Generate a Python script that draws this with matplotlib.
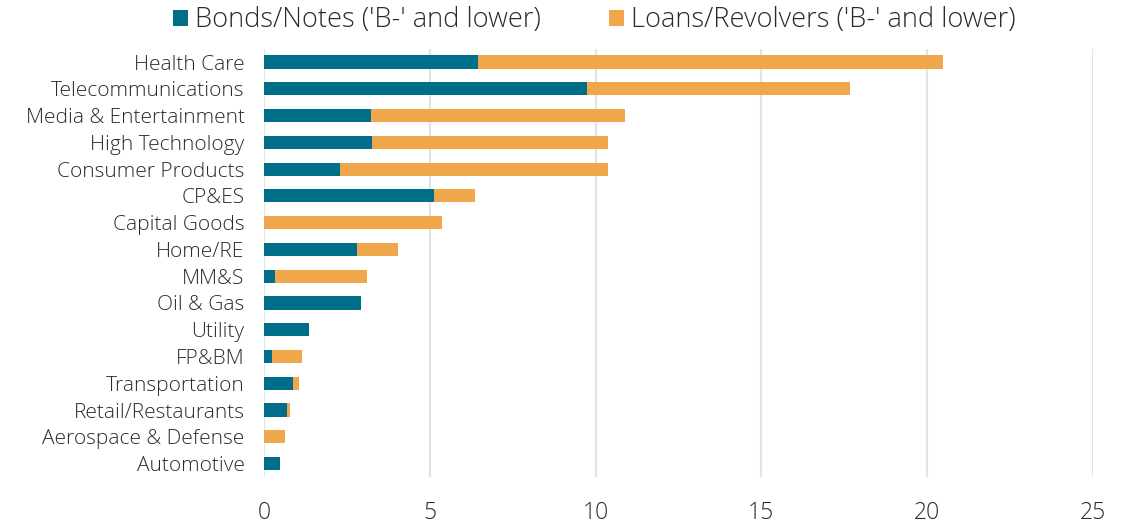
import matplotlib
matplotlib.use("Agg")
import matplotlib.pyplot as plt
import numpy as np

plt.rcParams['font.family'] = ['Open Sans', 'DejaVu Sans']
plt.rcParams['font.weight'] = 'light'

sectors = ["Health Care", "Telecommunications", "Media & Entertainment", "High Technology",
           "Consumer Products", "CP&ES", "Capital Goods", "Home/RE", "MM&S", "Oil & Gas",
           "Utility", "FP&BM", "Transportation", "Retail/Restaurants",
           "Aerospace & Defense", "Automotive"]
bonds = [6.45, 9.75, 3.22, 3.25, 2.29, 5.14, 0.0, 2.80, 0.33, 2.93,
         1.35, 0.25, 0.88, 0.69, 0.0, 0.49]
loans = [14.03, 7.92, 7.67, 7.11, 8.07, 1.22, 5.38, 1.23, 2.77, 0.0,
         0.0, 0.91, 0.18, 0.10, 0.62, 0.0]
xticks = [0, 5, 10, 15, 20, 25]

teal = "#006E89"
orange = "#F0A64B"
text_color = "#2B2B2B"

fig = plt.figure(figsize=(11.32, 5.23), dpi=100)
ax = fig.add_axes([0.2332, 0.088, 0.7323, 0.819])

y = np.arange(len(sectors))
h = 0.49
ax.barh(y, bonds, height=h, color=teal, label="Bonds/Notes ('B-' and lower)", zorder=3)
ax.barh(y, loans, left=bonds, height=h, color=orange,
        label="Loans/Revolvers ('B-' and lower)", zorder=3)

ax.set_ylim(len(sectors) - 0.5, -0.5)
ax.set_xlim(0, 25)
ax.set_xticks(xticks)
ax.set_xticklabels([str(t) for t in xticks])
ax.set_yticks(y)
ax.set_yticklabels(sectors)

ax.grid(axis='x', color='#E3E3E3', linewidth=1.5, zorder=0)
for s in ax.spines.values():
    s.set_visible(False)
ax.tick_params(axis='x', length=0, pad=17, labelsize=16.5, labelcolor=text_color)
ax.tick_params(axis='y', length=0, pad=14, labelsize=15, labelcolor=text_color)

fig.legend(loc='center', bbox_to_anchor=(0.525, 0.961), ncol=2, frameon=False,
           fontsize=19.6, handlelength=0.55, handleheight=0.55, handletextpad=0.27,
           columnspacing=2.5, labelcolor=text_color)

fig.savefig("out.png", dpi=100)
